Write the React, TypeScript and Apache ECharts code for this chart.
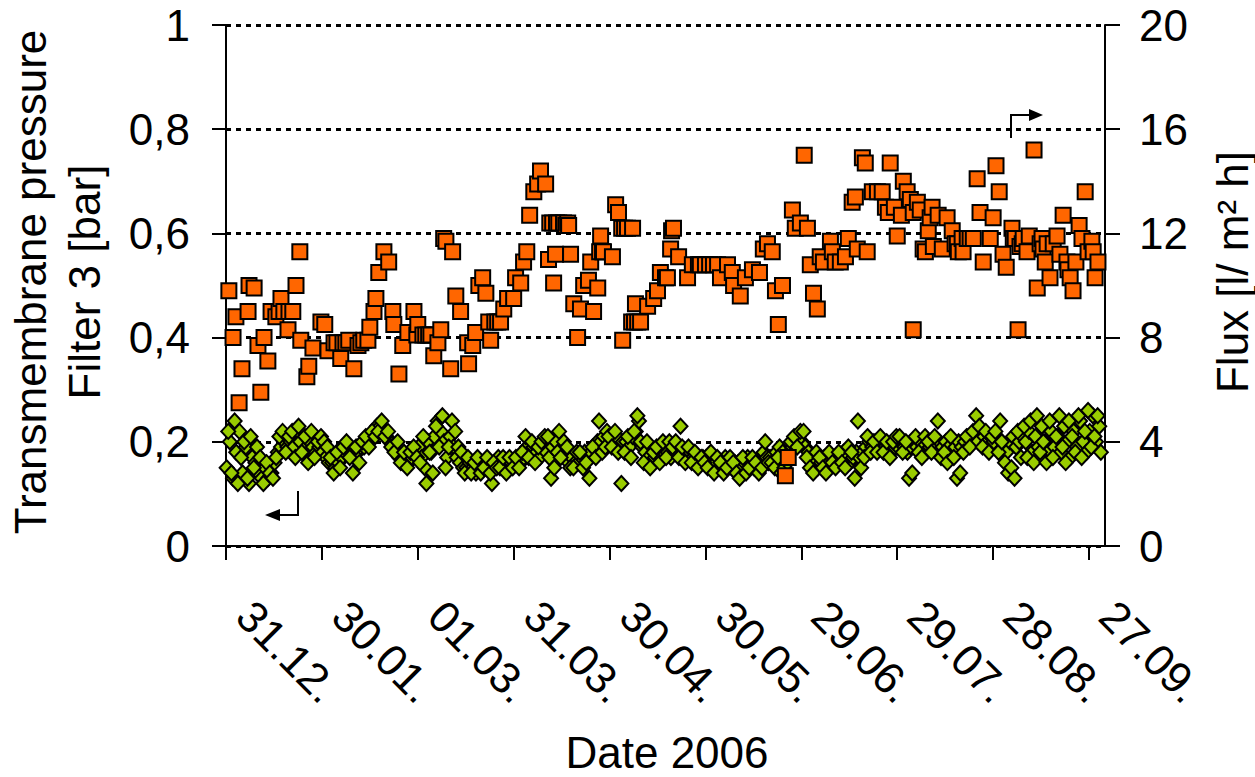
import React, { useEffect, useRef } from "react";
import * as echarts from "echarts";

// x axis: days after 31.12.2005
const dateLabels = ["31.12.", "30.01.", "01.03.", "31.03.", "30.04.", "30.05.", "29.06.", "29.07.", "28.08.", "27.09."];
const tmpLabels = ["0", "0,2", "0,4", "0,6", "0,8", "1"];
const fluxLabels = ["0", "4", "8", "12", "16", "20"];

// Flux [l/(m² h)] : [day, value]
const fluxPoints: [number, number][] = [
  [0.9, 9.8], [2.2, 8.0], [3.1, 8.8], [4.1, 5.5], [5.0, 6.8], [6.9, 9.0], [7.2, 10.0], [8.8, 9.9], [10.0, 7.7], [10.9, 5.9],
  [11.9, 8.0], [13.1, 7.1], [14.1, 9.0], [15.6, 8.8], [16.6, 9.0], [17.2, 9.5], [18.1, 9.0], [19.4, 8.3], [19.7, 9.0], [20.9, 9.0],
  [21.9, 10.0], [23.1, 11.3], [23.4, 7.9], [25.3, 6.5], [25.9, 6.9], [27.2, 7.6], [29.7, 8.6], [30.9, 8.5], [31.9, 7.5], [33.8, 7.8],
  [34.7, 7.8], [35.9, 7.2], [36.6, 7.8], [37.5, 7.8], [38.4, 7.9], [40.0, 6.8], [41.3, 7.7], [42.2, 7.8], [43.1, 7.9], [44.4, 7.9],
  [45.0, 8.4], [46.3, 9.0], [46.9, 9.5], [47.8, 10.5], [49.4, 11.3], [50.9, 10.9], [52.2, 9.0], [52.5, 8.5], [54.1, 6.6], [55.3, 7.7],
  [56.9, 8.2], [58.8, 9.0], [59.7, 8.1], [60.0, 8.5], [61.6, 8.1], [62.5, 8.1], [63.4, 8.1], [64.1, 8.1], [65.0, 7.3], [66.3, 7.8],
  [67.2, 8.3], [68.1, 11.8], [68.8, 11.7], [70.3, 6.8], [70.9, 11.3], [71.9, 9.6], [73.4, 9.0], [75.6, 7.8], [75.9, 7.0], [77.2, 7.7],
  [78.1, 8.2], [79.1, 10.0], [80.3, 10.3], [81.3, 9.7], [82.2, 8.6], [82.8, 7.9], [84.1, 8.6], [85.0, 8.6], [85.9, 8.6], [86.9, 9.1],
  [88.1, 9.5], [90.0, 9.5], [90.6, 10.3], [92.2, 10.1], [93.1, 10.9], [94.1, 11.3], [95.0, 12.7], [96.3, 13.6], [97.5, 13.9], [98.4, 14.4],
  [100.0, 13.9], [100.9, 11.0], [101.3, 12.4], [102.2, 12.4], [102.5, 10.1], [103.1, 11.2], [103.4, 12.4], [104.1, 12.4], [105.6, 12.4], [106.3, 12.3],
  [106.9, 12.4], [107.2, 12.3], [107.8, 11.2], [108.8, 9.3], [110.0, 8.0], [110.9, 9.1], [111.9, 10.0], [113.4, 10.2], [114.1, 10.9], [115.0, 9.0],
  [116.3, 9.9], [116.9, 11.3], [117.2, 11.9], [117.8, 11.3], [118.1, 11.3], [120.9, 11.1], [121.9, 13.1], [122.8, 12.8], [123.8, 12.2], [124.1, 7.9],
  [124.7, 12.2], [125.6, 12.2], [126.9, 8.6], [127.2, 12.2], [127.8, 8.6], [128.1, 9.3], [128.8, 8.6], [129.7, 8.6], [131.9, 9.2], [133.8, 9.5],
  [135.0, 9.8], [135.9, 10.5], [137.5, 10.3], [138.1, 10.3], [139.1, 11.4], [139.4, 12.1], [140.0, 12.2], [141.6, 11.1], [144.4, 10.3], [145.9, 10.8],
  [147.8, 10.8], [148.4, 10.8], [150.0, 10.8], [151.3, 10.8], [152.5, 10.8], [153.8, 10.8], [154.7, 10.3], [156.9, 10.8], [158.4, 10.5], [158.8, 10.0],
  [160.9, 9.6], [162.5, 10.3], [164.7, 10.6], [166.9, 10.5], [168.1, 11.4], [169.4, 11.6], [170.9, 11.3], [171.9, 9.8], [172.8, 8.5], [174.1, 10.0],
  [175.0, 2.7], [175.9, 3.4], [177.2, 12.9], [178.1, 12.2], [179.7, 12.4], [180.9, 15.0], [181.9, 12.2], [182.8, 10.8], [183.8, 9.7], [185.0, 9.1],
  [185.9, 11.1], [186.9, 10.9], [189.1, 11.7], [189.7, 11.3], [190.6, 10.9], [192.2, 10.9], [193.8, 11.1], [194.7, 11.8], [195.9, 13.2], [196.9, 13.4],
  [197.5, 11.4], [199.1, 14.9], [200.0, 14.7], [200.6, 11.3], [202.2, 13.6], [203.8, 13.6], [205.3, 13.6], [206.3, 13.0], [207.2, 12.8], [207.8, 14.7],
  [209.1, 13.0], [210.0, 11.9], [211.3, 12.7], [211.9, 14.0], [213.1, 13.6], [214.1, 13.3], [215.0, 8.3], [215.0, 12.8], [216.3, 13.2], [217.2, 12.9],
  [218.1, 11.4], [218.8, 11.3], [219.7, 12.1], [220.3, 12.6], [220.9, 13.0], [221.3, 11.5], [222.8, 12.7], [224.1, 11.4], [225.6, 12.6], [227.2, 12.1],
  [228.1, 11.6], [228.8, 11.6], [229.1, 11.3], [230.3, 11.8], [230.6, 11.3], [231.9, 11.8], [232.8, 11.8], [233.8, 11.8], [235.0, 14.1], [235.9, 12.8],
  [236.9, 10.9], [239.1, 11.8], [240.0, 12.6], [240.9, 14.6], [241.9, 13.6], [243.1, 11.2], [244.1, 10.7], [245.9, 12.2], [246.3, 11.8], [246.9, 11.8],
  [247.8, 8.3], [248.4, 11.5], [249.1, 11.6], [249.4, 11.8], [250.6, 11.3], [251.3, 11.9], [252.8, 15.2], [253.8, 9.9], [254.7, 11.6], [255.3, 11.8],
  [255.6, 11.4], [256.3, 10.9], [256.9, 11.6], [257.8, 10.3], [258.8, 11.6], [260.0, 11.9], [260.9, 11.2], [261.9, 12.7], [263.1, 10.9], [263.4, 10.6],
  [264.1, 10.3], [265.0, 9.8], [265.9, 10.9], [266.9, 12.3], [267.8, 11.8], [268.8, 13.6], [269.7, 11.3], [270.9, 11.7], [271.3, 11.3], [271.9, 10.3],
  [272.8, 10.9],
];

// Transmembrane pressure [bar], first reading of each day (day 0..273)
const tmpA: number[] = [
  0.15, 0.20, 0.13, 0.18, 0.22, 0.14, 0.19, 0.12, 0.17, 0.16,
  0.14, 0.13, 0.15, 0.13, 0.14, 0.16, 0.18, 0.19, 0.20, 0.19,
  0.20, 0.19, 0.21, 0.20, 0.18, 0.19, 0.20, 0.19, 0.18, 0.19,
  0.18, 0.17, 0.16, 0.16, 0.15, 0.16, 0.17, 0.18, 0.19, 0.18,
  0.17, 0.18, 0.19, 0.19, 0.20, 0.21, 0.22, 0.23, 0.23, 0.22,
  0.21, 0.20, 0.19, 0.18, 0.17, 0.16, 0.17, 0.16, 0.17, 0.18,
  0.19, 0.17, 0.15, 0.20, 0.18, 0.21, 0.24, 0.22, 0.20, 0.17,
  0.21, 0.19, 0.17, 0.16, 0.15, 0.15, 0.16, 0.15, 0.14, 0.15,
  0.16, 0.15, 0.16, 0.12, 0.16, 0.17, 0.16, 0.16, 0.15, 0.16,
  0.16, 0.17, 0.16, 0.17, 0.19, 0.18, 0.19, 0.18, 0.17, 0.19,
  0.18, 0.17, 0.19, 0.20, 0.22, 0.18, 0.17, 0.16, 0.17, 0.16,
  0.16, 0.17, 0.18, 0.17, 0.18, 0.19, 0.20, 0.20, 0.21, 0.22,
  0.21, 0.20, 0.21, 0.19, 0.20, 0.20, 0.19, 0.21, 0.22, 0.24,
  0.19, 0.18, 0.17, 0.16, 0.17, 0.18, 0.17, 0.19, 0.18, 0.17,
  0.19, 0.18, 0.23, 0.18, 0.17, 0.18, 0.17, 0.17, 0.16, 0.17,
  0.17, 0.16, 0.17, 0.16, 0.15, 0.16, 0.17, 0.16, 0.15, 0.16,
  0.16, 0.15, 0.16, 0.17, 0.16, 0.15, 0.16, 0.17, 0.18, 0.17,
  0.17, 0.16, 0.18, 0.19, 0.18, 0.17, 0.18, 0.19, 0.20, 0.21,
  0.20, 0.19, 0.18, 0.17, 0.16, 0.15, 0.16, 0.17, 0.16, 0.17,
  0.17, 0.16, 0.17, 0.18, 0.17, 0.16, 0.17, 0.18, 0.17, 0.18,
  0.19, 0.20, 0.19, 0.20, 0.19, 0.20, 0.19, 0.19, 0.18, 0.19,
  0.19, 0.20, 0.19, 0.18, 0.19, 0.20, 0.19, 0.20, 0.19, 0.18,
  0.19, 0.20, 0.19, 0.20, 0.19, 0.20, 0.19, 0.18, 0.19, 0.20,
  0.19, 0.20, 0.21, 0.20, 0.21, 0.20, 0.22, 0.21, 0.20, 0.21,
  0.20, 0.21, 0.24, 0.19, 0.18, 0.20, 0.21, 0.19, 0.20, 0.21,
  0.20, 0.22, 0.18, 0.21, 0.19, 0.23, 0.20, 0.18, 0.22, 0.19,
  0.21, 0.18, 0.23, 0.20, 0.17, 0.22, 0.19, 0.24, 0.20, 0.18,
  0.22, 0.25, 0.20, 0.23,
];

// Transmembrane pressure [bar], second reading of each day (day 0.5..273.5)
const tmpB: number[] = [
  0.22, 0.14, 0.24, 0.12, 0.17, 0.20, 0.13, 0.21, 0.15, 0.19,
  0.17, 0.12, 0.16, 0.14, 0.13, 0.17, 0.21, 0.22, 0.18, 0.21,
  0.22, 0.17, 0.23, 0.18, 0.21, 0.16, 0.22, 0.17, 0.20, 0.21,
  0.20, 0.19, 0.17, 0.14, 0.18, 0.15, 0.19, 0.20, 0.17, 0.14,
  0.19, 0.16, 0.20, 0.21, 0.19, 0.22, 0.21, 0.22, 0.24, 0.21,
  0.22, 0.19, 0.18, 0.20, 0.16, 0.18, 0.15, 0.18, 0.19, 0.17,
  0.16, 0.21, 0.12, 0.18, 0.14, 0.23, 0.19, 0.25, 0.15, 0.19,
  0.24, 0.22, 0.19, 0.18, 0.14, 0.17, 0.14, 0.16, 0.17, 0.14,
  0.15, 0.17, 0.14, 0.16, 0.15, 0.15, 0.17, 0.14, 0.17, 0.15,
  0.17, 0.15, 0.18, 0.21, 0.17, 0.20, 0.16, 0.19, 0.20, 0.21,
  0.21, 0.13, 0.15, 0.18, 0.17, 0.20, 0.19, 0.15, 0.15, 0.18,
  0.18, 0.15, 0.16, 0.13, 0.19, 0.17, 0.24, 0.18, 0.19, 0.21,
  0.19, 0.22, 0.18, 0.12, 0.18, 0.21, 0.17, 0.22, 0.25, 0.20,
  0.16, 0.20, 0.15, 0.18, 0.19, 0.16, 0.20, 0.17, 0.20, 0.19,
  0.20, 0.17, 0.19, 0.16, 0.19, 0.16, 0.18, 0.15, 0.17, 0.16,
  0.15, 0.18, 0.14, 0.17, 0.16, 0.14, 0.15, 0.17, 0.16, 0.14,
  0.13, 0.17, 0.14, 0.15, 0.17, 0.16, 0.14, 0.15, 0.20, 0.16,
  0.16, 0.15, 0.17, 0.14, 0.15, 0.16, 0.20, 0.21, 0.19, 0.22,
  0.22, 0.17, 0.15, 0.14, 0.18, 0.17, 0.15, 0.14, 0.18, 0.16,
  0.15, 0.18, 0.16, 0.15, 0.19, 0.18, 0.13, 0.24, 0.15, 0.17,
  0.21, 0.18, 0.20, 0.18, 0.21, 0.18, 0.20, 0.17, 0.20, 0.21,
  0.21, 0.18, 0.20, 0.13, 0.14, 0.21, 0.18, 0.17, 0.21, 0.20,
  0.18, 0.21, 0.24, 0.17, 0.18, 0.16, 0.21, 0.17, 0.13, 0.14,
  0.18, 0.21, 0.19, 0.22, 0.25, 0.23, 0.19, 0.22, 0.18, 0.21,
  0.22, 0.18, 0.20, 0.16, 0.14, 0.15, 0.13, 0.22, 0.17, 0.23,
  0.17, 0.24, 0.16, 0.25, 0.18, 0.20, 0.16, 0.24, 0.17, 0.21,
  0.25, 0.19, 0.16, 0.24, 0.21, 0.18, 0.25, 0.17, 0.22, 0.26,
  0.19, 0.21, 0.25, 0.18,
];

const FONT = '"Liberation Sans", Arial, Helvetica, sans-serif';

export default function App() {
  const ref = useRef<HTMLDivElement>(null);

  useEffect(() => {
    if (!ref.current) return;
    const chart = echarts.init(ref.current, undefined, { renderer: "svg" });

    const tmpData: [number, number][] = [];
    tmpA.forEach((v, i) => tmpData.push([i + 0.2, v]));
    tmpB.forEach((v, i) => tmpData.push([i + 0.7, v]));

    const arrowStyle = { stroke: "#000", lineWidth: 2, fill: "none" };

    chart.setOption({
      animation: false,
      backgroundColor: "#fff",
      textStyle: { fontFamily: FONT },
      grid: { left: 226, right: 150, top: 25, bottom: 231, containLabel: false },
      xAxis: {
        type: "value",
        min: 0,
        max: 275,
        interval: 30,
        axisLine: { show: true, onZero: false, lineStyle: { color: "#000", width: 2 } },
        axisTick: { show: true, inside: false, length: 14, lineStyle: { color: "#000", width: 2 } },
        splitLine: { show: false },
        axisLabel: {
          show: true,
          rotate: -45,
          margin: 44,
          padding: [0, 0, 0, 26],
          fontSize: 44,
          fontFamily: FONT,
          color: "#000",
          showMaxLabel: false,
          formatter: (v: number) => {
            const k = Math.round(v / 30);
            return Math.abs(v - k * 30) < 1e-6 && dateLabels[k] !== undefined ? dateLabels[k] : "";
          },
        },
      },
      yAxis: [
        {
          type: "value",
          min: 0,
          max: 1,
          interval: 0.2,
          position: "left",
          axisLine: { show: true, lineStyle: { color: "#000", width: 2 } },
          axisTick: { show: true, inside: false, length: 14, lineStyle: { color: "#000", width: 2 } },
          splitLine: { show: true, lineStyle: { color: "#000", width: 3, type: [5, 5] } },
          axisLabel: {
            margin: 36,
            fontSize: 44,
            fontFamily: FONT,
            color: "#000",
            formatter: (v: number) => tmpLabels[Math.round(v / 0.2)] ?? "",
          },
        },
        {
          type: "value",
          min: 0,
          max: 20,
          interval: 4,
          position: "right",
          axisLine: { show: true, lineStyle: { color: "#000", width: 2 } },
          axisTick: { show: true, inside: false, length: 15, lineStyle: { color: "#000", width: 2 } },
          splitLine: { show: false },
          axisLabel: {
            margin: 34,
            fontSize: 44,
            fontFamily: FONT,
            color: "#000",
            formatter: (v: number) => fluxLabels[Math.round(v / 4)] ?? "",
          },
        },
      ],
      series: [
        {
          name: "TMP",
          type: "scatter",
          yAxisIndex: 0,
          symbol: "diamond",
          symbolSize: [14, 15],
          itemStyle: { color: "#99CC00", borderColor: "#000", borderWidth: 2, opacity: 1 },
          data: tmpData,
        },
        {
          name: "Flux",
          type: "scatter",
          yAxisIndex: 1,
          symbol: "rect",
          symbolSize: 15,
          itemStyle: { color: "#FF6600", borderColor: "#000", borderWidth: 2, opacity: 1 },
          data: fluxPoints,
        },
      ],
      graphic: [
        {
          type: "text",
          x: 30,
          y: 282,
          rotation: Math.PI / 2,
          style: { text: "Transmembrane pressure", fontSize: 44, fontFamily: FONT, fill: "#000", align: "center", verticalAlign: "middle" },
        },
        {
          type: "text",
          x: 84,
          y: 282,
          rotation: Math.PI / 2,
          style: { text: "Filter 3 [bar]", fontSize: 44, fontFamily: FONT, fill: "#000", align: "center", verticalAlign: "middle" },
        },
        {
          type: "text",
          x: 1232,
          y: 272,
          rotation: Math.PI / 2,
          style: { text: "Flux [l/ m² h]", fontSize: 44, fontFamily: FONT, fill: "#000", align: "center", verticalAlign: "middle" },
        },
        {
          type: "text",
          x: 667,
          y: 752,
          style: { text: "Date 2006", fontSize: 44, fontFamily: FONT, fill: "#000", align: "center", verticalAlign: "middle" },
        },
        { type: "polyline", shape: { points: [[298, 491], [298, 515], [276, 515]] }, style: arrowStyle },
        { type: "polygon", shape: { points: [[265, 515], [280, 509], [280, 521]] }, style: { fill: "#000" } },
        { type: "polyline", shape: { points: [[1011, 138], [1011, 115], [1032, 115]] }, style: arrowStyle },
        { type: "polygon", shape: { points: [[1043, 115], [1029, 109], [1029, 121]] }, style: { fill: "#000" } },
      ],
    });

    return () => chart.dispose();
  }, []);

  return <div ref={ref} style={{ position: "absolute", left: 0, top: 0, width: 1255, height: 777 }} />;
}
